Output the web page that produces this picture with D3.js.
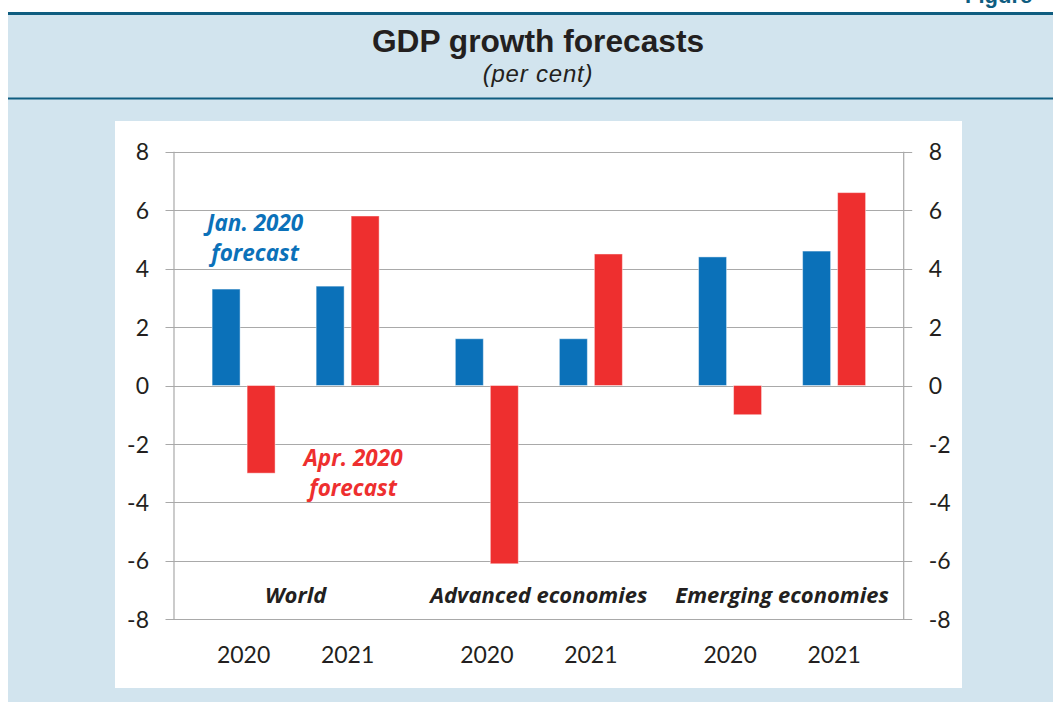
<!DOCTYPE html>
<html>
<head>
<meta charset="utf-8">
<script src="https://cdn.jsdelivr.net/npm/d3@7"></script>
<style>
  html, body { margin: 0; padding: 0; background: #fff; }
  svg { display: block; }
</style>
</head>
<body>
<svg id="chart" width="1053" height="702"></svg>
<script>
// data
var groups = ["World", "Advanced economies", "Emerging economies"];
var years = ["2020", "2021"];
var janForecast = [[3.3, 3.4], [1.6, 1.6], [4.4, 4.6]];
var aprForecast = [[-3.0, 5.8], [-6.1, 4.5], [-1.0, 6.6]];
var yTicks = [-8, -6, -4, -2, 0, 2, 4, 6, 8];

var BLUE = "#0b71b9",
    RED = "#ee2f2f",
    GRID = "#a9a9a9",
    INK = "#231f20",
    TEAL = "#0f5d80";

var svg = d3.select("#chart");

// page frame (the figure tag is cropped at the top in the original)
svg.append("text")
  .attr("x", 965).attr("y", 3)
  .attr("font-family", "Liberation Sans, Arial, sans-serif")
  .attr("font-weight", "bold").attr("font-size", 22)
  .attr("fill", TEAL)
  .text("Figure");

svg.append("rect")
  .attr("x", 8).attr("y", 13).attr("width", 1045).attr("height", 689)
  .attr("fill", "#d2e4ee");
svg.append("line")
  .attr("x1", 8).attr("x2", 1053).attr("y1", 13.5).attr("y2", 13.5)
  .attr("stroke", TEAL).attr("stroke-width", 3);
svg.append("line")
  .attr("x1", 8).attr("x2", 1053).attr("y1", 98.5).attr("y2", 98.5)
  .attr("stroke", TEAL).attr("stroke-width", 2);

svg.append("text")
  .attr("x", 538).attr("y", 52)
  .attr("text-anchor", "middle")
  .attr("font-family", "Liberation Sans, Arial, sans-serif")
  .attr("font-weight", "bold").attr("font-size", 31.7)
  .attr("fill", INK)
  .text("GDP growth forecasts");
svg.append("text")
  .attr("x", 538).attr("y", 82)
  .attr("text-anchor", "middle")
  .attr("font-family", "Liberation Sans, Arial, sans-serif")
  .attr("font-style", "italic").attr("font-size", 24)
  .attr("letter-spacing", 0.8)
  .attr("fill", INK)
  .text("(per cent)");

// white chart panel
svg.append("rect")
  .attr("x", 115).attr("y", 121).attr("width", 847).attr("height", 567)
  .attr("fill", "#fff");

var LEFT = 174, RIGHT = 903.7, TOP = 151.7, BOTTOM = 619.3;

var x0 = d3.scaleBand().domain(groups).range([LEFT, RIGHT]);
var x1 = d3.scalePoint().domain(years).range([0, x0.bandwidth()]).padding(0.669);
var xs = d3.scaleBand().domain(["jan", "apr"]).range([-31.5, 31.5]).paddingInner(0.2);
var y = d3.scaleLinear().domain([-8, 8]).range([BOTTOM, TOP]);

var font = "Lato, 'Open Sans', sans-serif";
var boldFont = "'Open Sans', Lato, sans-serif";

// gridlines
svg.append("g").selectAll("line")
  .data(yTicks)
  .join("line")
  .attr("x1", LEFT - 8.5).attr("x2", RIGHT + 8.5)
  .attr("y1", function(d) { return Math.round(y(d)) + 0.5; })
  .attr("y2", function(d) { return Math.round(y(d)) + 0.5; })
  .attr("stroke", GRID).attr("stroke-width", 1);

// vertical axis lines
[LEFT, RIGHT].forEach(function(xv) {
  svg.append("line")
    .attr("x1", xv).attr("x2", xv).attr("y1", y(8)).attr("y2", y(-8))
    .attr("stroke", GRID).attr("stroke-width", 1.2);
});

// tick labels (plain hyphen for negatives, as in the original)
var fmt = function(d) { return String(d); };
var leftAxis = svg.append("g")
  .attr("transform", "translate(" + LEFT + ",0)")
  .call(d3.axisLeft(y).tickValues(yTicks).tickSize(0).tickPadding(25).tickFormat(fmt));
var rightAxis = svg.append("g")
  .attr("transform", "translate(" + RIGHT + ",0)")
  .call(d3.axisRight(y).tickValues(yTicks).tickSize(0).tickPadding(25).tickFormat(fmt));
[leftAxis, rightAxis].forEach(function(a) {
  a.select(".domain").remove();
  a.selectAll("text")
    .attr("font-family", font).attr("font-size", 23)
    .attr("fill", INK).attr("dy", "0.35em");
});

// bars
var rows = [];
groups.forEach(function(g, gi) {
  years.forEach(function(yr, yi) {
    rows.push({ group: g, year: yr, key: "jan", value: janForecast[gi][yi] });
    rows.push({ group: g, year: yr, key: "apr", value: aprForecast[gi][yi] });
  });
});

svg.append("g").selectAll("rect")
  .data(rows)
  .join("rect")
  .attr("x", function(d) { return x0(d.group) + x1(d.year) + xs(d.key); })
  .attr("width", xs.bandwidth())
  .attr("y", function(d) { return y(Math.max(0, d.value)); })
  .attr("height", function(d) { return Math.abs(y(d.value) - y(0)); })
  .attr("fill", function(d) { return d.key == "jan" ? BLUE : RED; })
  .attr("stroke", "#fff").attr("stroke-opacity", 0.45).attr("stroke-width", 1);

// year labels
svg.append("g").selectAll("text")
  .data(rows.filter(function(d) { return d.key == "jan"; }))
  .join("text")
  .attr("x", function(d) { return x0(d.group) + x1(d.year); })
  .attr("y", 663)
  .attr("text-anchor", "middle")
  .attr("font-family", font).attr("font-size", 23)
  .attr("fill", INK)
  .text(function(d) { return d.year; });

// group labels
svg.append("g").selectAll("text")
  .data(groups)
  .join("text")
  .attr("x", function(d) { return x0(d) + x0.bandwidth() / 2; })
  .attr("y", 603)
  .attr("text-anchor", "middle")
  .attr("font-family", boldFont).attr("font-size", 22)
  .attr("font-weight", "bold").attr("font-style", "italic")
  .attr("fill", INK)
  .text(function(d) { return d; });

// series annotations
var notes = [
  { lines: ["Jan. 2020", "forecast"], year: "2020", dx: 11.5, v: 5.3, color: BLUE },
  { lines: ["Apr. 2020", "forecast"], year: "2021", dx: 5.5, v: -2.75, color: RED }
];
notes.forEach(function(n) {
  var t = svg.append("text")
    .attr("x", x0("World") + x1(n.year) + n.dx)
    .attr("y", y(n.v))
    .attr("text-anchor", "middle")
    .attr("font-family", boldFont).attr("font-size", 22.5)
    .attr("font-weight", "bold").attr("font-style", "italic")
    .attr("fill", n.color);
  n.lines.forEach(function(l, i) {
    t.append("tspan")
      .attr("x", x0("World") + x1(n.year) + n.dx)
      .attr("dy", i == 0 ? 0 : 30.5)
      .text(l);
  });
});
</script>
</body>
</html>
